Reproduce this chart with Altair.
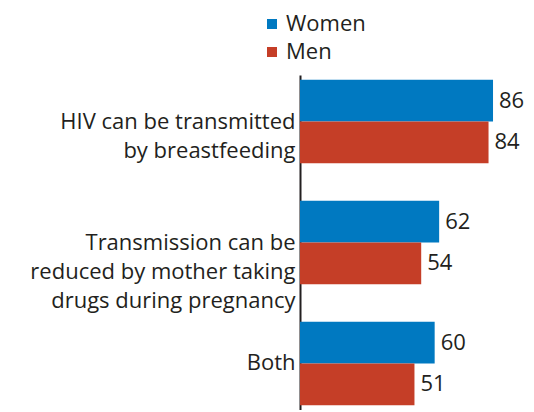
import altair as alt
import pandas as pd

categories = ["HIV can be transmitted|by breastfeeding",
              "Transmission can be|reduced by mother taking|drugs during pregnancy",
              "Both"]
groups = ["Women", "Men"]
women = [86, 62, 60]
men = [84, 54, 51]

rows = []
for c, w, m in zip(categories, women, men):
    rows.append({"category": c, "group": "Women", "value": w})
    rows.append({"category": c, "group": "Men", "value": m})
df = pd.DataFrame(rows)

FONT = "Open Sans"
TXT = "#231F20"

yenc = alt.Y("category:N", sort=categories,
             scale=alt.Scale(paddingInner=0.31, paddingOuter=0.04),
             axis=alt.Axis(title=None, ticks=False, domain=True, domainColor=TXT,
                           domainWidth=2, labelFont=FONT, labelFontSize=22,
                           labelColor=TXT, labelPadding=5, labelLimit=400,
                           labelLineHeight=29,
                           labelExpr="split(datum.value, '|')"))
xenc = alt.X("value:Q", scale=alt.Scale(domain=[0, 90]), axis=None)
yoff = alt.YOffset("group:N", sort=groups)

bars = alt.Chart(df).mark_bar().encode(
    x=xenc, y=yenc, yOffset=yoff,
    color=alt.Color("group:N", sort=groups,
                    scale=alt.Scale(domain=groups, range=["#0079C1", "#C53E27"]),
                    legend=alt.Legend(title=None, orient="none", legendX=-39,
                                      legendY=-62, symbolType="square",
                                      symbolSize=100, symbolStrokeWidth=0,
                                      labelFont=FONT, labelFontSize=22,
                                      labelColor=TXT, rowPadding=6,
                                      labelOffset=3))
)

labels = alt.Chart(df).mark_text(align="left", baseline="middle", dx=6,
                                 font=FONT, fontSize=22, color=TXT).encode(
    x=xenc, y=yenc, yOffset=yoff, text="value:Q"
)

chart = (bars + labels).properties(
    width=202, height=335,
    padding={"left": 292, "top": 67, "right": 24, "bottom": 0},
    autosize=alt.AutoSizeParams(type="none"),
).configure_view(stroke=None)

chart.save("out.html", embed_options={"renderer": "svg", "actions": False})
